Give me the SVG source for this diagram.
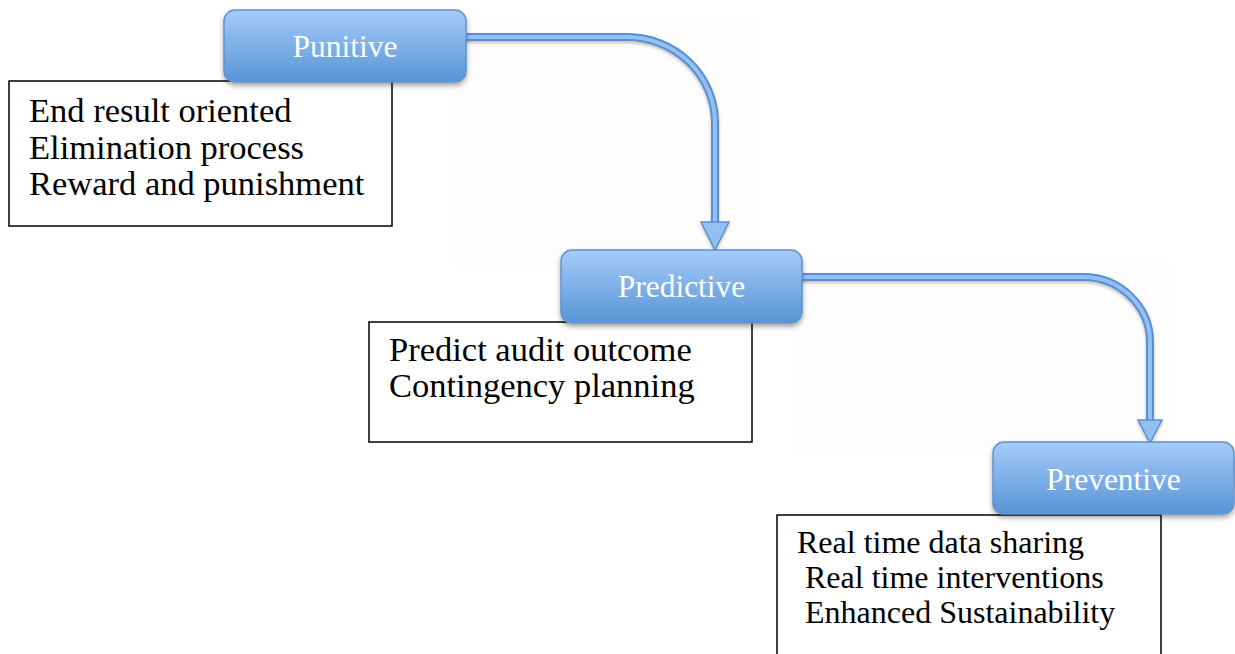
<svg xmlns="http://www.w3.org/2000/svg" width="1235" height="654" viewBox="0 0 1235 654">
<defs>
  <linearGradient id="nodeGrad" x1="0" y1="0" x2="0" y2="1">
    <stop offset="0" stop-color="#a6cbf8"/>
    <stop offset="1" stop-color="#5795d6"/>
  </linearGradient>
  <filter id="shadow" x="-10%" y="-20%" width="120%" height="150%">
    <feDropShadow dx="0" dy="3" stdDeviation="2.5" flood-color="#000" flood-opacity="0.35"/>
  </filter>
  <filter id="lineShadow" x="-10%" y="-10%" width="120%" height="130%">
    <feDropShadow dx="0" dy="2" stdDeviation="1.5" flood-color="#000" flood-opacity="0.25"/>
  </filter>
</defs>
<style>
  .node rect { fill: url(#nodeGrad); stroke: #5f93cf; stroke-width: 1.5; }
  .nlabel { font-family: "Liberation Serif", "Times New Roman", serif; font-size: 31.5px; fill: #ffffff; text-anchor: middle; }
  .box { fill: #ffffff; stroke: #000000; stroke-width: 1.5; }
  .btext { font-family: "Liberation Serif", "Times New Roman", serif; font-size: 32px; fill: #000000; }
  .wide { font-size: 34.5px; }
  .band-out { fill: none; stroke: #5a8ed0; stroke-width: 8; }
  .band-in { fill: none; stroke: #93c0f2; stroke-width: 4; }
  .head { fill: #93c0f2; stroke: #5a8ed0; stroke-width: 1.5; stroke-linejoin: miter; }
</style>
<rect x="0" y="0" width="1235" height="654" fill="#ffffff"/>
<rect x="455" y="18" width="305" height="248" fill="#fdfdfd"/>
<rect x="792" y="262" width="378" height="190" fill="#fdfdfd"/>

<g id="connectors">
  <g filter="url(#lineShadow)">
    <path class="band-out" d="M464 37 H627 A88 86 0 0 1 715 123 V224"/>
    <path class="band-in" d="M464 37 H627 A88 86 0 0 1 715 123 V224"/>
    <polygon class="head" points="701,222 729,222 715,250"/>
  </g>
  <g filter="url(#lineShadow)">
    <path class="band-out" d="M800 277 H1083 A67 65 0 0 1 1150 342 V422"/>
    <path class="band-in" d="M800 277 H1083 A67 65 0 0 1 1150 342 V422"/>
    <polygon class="head" points="1138,420 1162,420 1150,443"/>
  </g>
</g>

<g id="note-punitive">
  <rect class="box" x="9" y="81" width="383" height="145"/>
  <text class="btext wide" x="29" y="122">End result oriented</text>
  <text class="btext wide" x="29" y="159">Elimination process</text>
  <text class="btext wide" x="29" y="195">Reward and punishment</text>
</g>
<g id="node-punitive" class="node">
  <rect x="224" y="10" width="242" height="72" rx="11" filter="url(#shadow)"/>
  <text class="nlabel" x="345" y="57">Punitive</text>
</g>

<g id="note-predictive">
  <rect class="box" x="369" y="322" width="383" height="120"/>
  <text class="btext wide" x="389" y="361">Predict audit outcome</text>
  <text class="btext wide" x="389" y="397">Contingency planning</text>
</g>
<g id="node-predictive" class="node">
  <rect x="561" y="250" width="241" height="73" rx="11" filter="url(#shadow)"/>
  <text class="nlabel" x="681.5" y="297">Predictive</text>
</g>

<g id="note-preventive">
  <rect class="box" x="777" y="515" width="384" height="145"/>
  <text class="btext" x="797" y="553">Real time data sharing</text>
  <text class="btext" x="805" y="588">Real time interventions</text>
  <text class="btext" x="805" y="623">Enhanced Sustainability</text>
</g>
<g id="node-preventive" class="node">
  <rect x="993" y="442" width="241" height="72" rx="11" filter="url(#shadow)"/>
  <text class="nlabel" x="1113.5" y="490">Preventive</text>
</g>
</svg>
